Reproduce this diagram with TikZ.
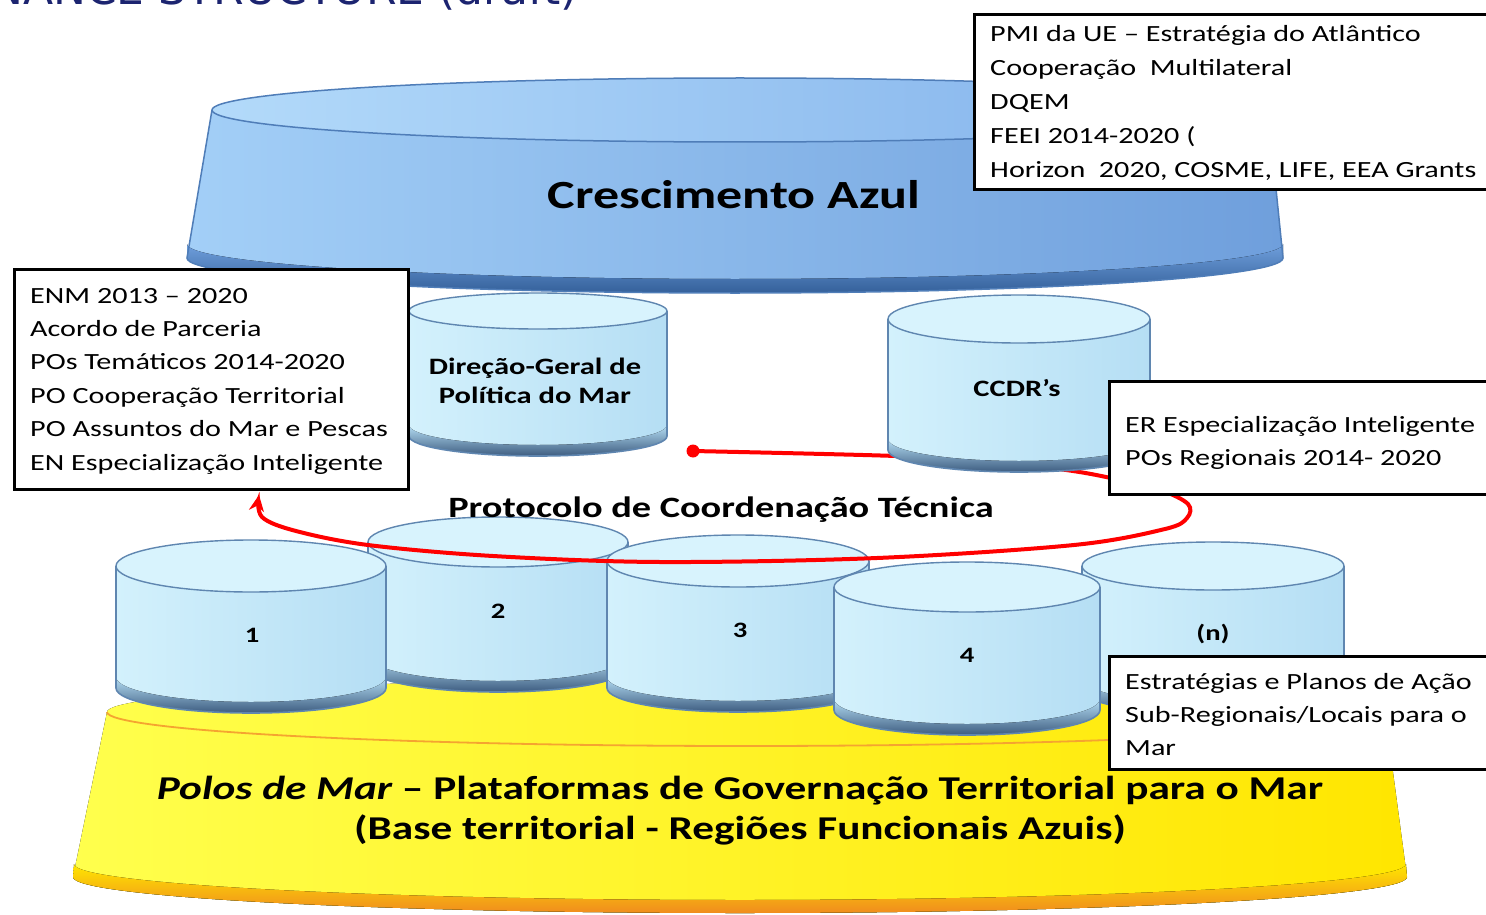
\documentclass[tikz,border=0pt]{standalone}
\usepackage{fontspec}
\usetikzlibrary{arrows.meta}
\newfontfamily\cfont[FakeStretch=1.3]{Carlito}
\newfontfamily\tfont{DejaVu Sans}
\definecolor{navy}{HTML}{1C2470}
\definecolor{drumL}{HTML}{D3F1FC}
\definecolor{drumR}{HTML}{B5DEF4}
\definecolor{drumT}{HTML}{D8F3FD}
\definecolor{drumE}{HTML}{5F86B0}
\definecolor{drumD}{HTML}{3D5C80}
\definecolor{bigL}{HTML}{A3CFF7}
\definecolor{bigR}{HTML}{6F9FDC}
\definecolor{bigTL}{HTML}{B3DAFA}
\definecolor{bigTR}{HTML}{80B0EA}
\definecolor{bigE}{HTML}{4F7DB8}
\definecolor{bigD}{HTML}{34609A}
\definecolor{yelL}{HTML}{FFFF4D}
\definecolor{yelR}{HTML}{FFE600}
\definecolor{orangeD}{HTML}{F08C1E}
\definecolor{rimO}{HTML}{F5A430}
\newcommand\mydrum[6]{%
  \fill[left color=drumL, right color=drumR] (#1-#3,#2) -- (#1-#3,#5) arc[start angle=180,end angle=0,x radius=#3,y radius=#6] -- (#1+#3,#2) -- cycle;
  \fill[top color=drumR, bottom color=drumD] (#1-#3,#5-11) -- (#1-#3,#5) arc[start angle=180,end angle=0,x radius=#3,y radius=#6] -- (#1+#3,#5-11) arc[start angle=0,end angle=180,x radius=#3,y radius=#6] -- cycle;
  \draw[drumE, line width=1.6] (#1-#3,#2) -- (#1-#3,#5) arc[start angle=180,end angle=0,x radius=#3,y radius=#6] -- (#1+#3,#2);
  \draw[drumE, line width=1.4, fill=drumT] (#1,#2) ellipse[x radius=#3, y radius=#4];
}
\tikzset{
  boxframe/.style={draw=black, line width=3pt, fill=white, inner sep=0pt, anchor=north west},
  boxtxt/.style={anchor=base west, inner sep=0pt, font=\cfont\fontsize{23.2}{30}\selectfont},
  lab/.style={anchor=base, inner sep=0pt, font=\cfont\bfseries\fontsize{23.5}{28}\selectfont},
  numlab/.style={anchor=base, inner sep=0pt, font=\cfont\bfseries\fontsize{22}{26}\selectfont},
  redloop/.style={red, line width=4pt, line cap=round},
}
\begin{document}
\begin{tikzpicture}[x=1pt,y=-1pt]
\useasboundingbox (0,0) rectangle (1486,915);
\fill[white] (0,0) rectangle (1486,915);

% clipped title
\node[anchor=base east, inner sep=0, text=navy, font=\tfont\fontsize{44}{44}\selectfont] (title) at (578,5) {GOVERNANCE STRUCTURE (draft)};

% yellow base
\fill[left color=yelL, right color=yelR] (107,712) -- (73,877) arc[start angle=180,end angle=0,x radius=667,y radius=36] -- (1385,712) arc[start angle=0,end angle=-180,x radius=639,y radius=34] -- cycle;
\fill[top color=yelR, bottom color=orangeD] (74,864) -- (73,877) arc[start angle=180,end angle=0,x radius=667,y radius=36] -- (1406,864) arc[start angle=0,end angle=180,x radius=666,y radius=36] -- cycle;
\draw[rimO, line width=1.8pt] (107,712) arc[start angle=180,end angle=0,x radius=639,y radius=34];

% bottom drums
\mydrum{498}{542}{130}{25}{667}{25}
\mydrum{251}{566}{135}{26}{688}{25}
\mydrum{738}{561}{131}{26}{688}{24}
\mydrum{1213}{566}{131}{24}{690}{24}
\mydrum{967}{587}{133}{25}{710}{25}
\node[numlab] (n2) at (498,618) {2};
\node[numlab] (n1) at (252,642) {1};
\node[numlab] (n3) at (740,637) {3};
\node[numlab] (n4) at (967,662) {4};
\node[numlab] (nn) at (1213,640) {(n)};

% big top cylinder
\fill[left color=bigL, right color=bigR] (212,110) -- (187,258) arc[start angle=180,end angle=0,x radius=548,y radius=35] -- (1268,110) arc[start angle=0,end angle=-180,x radius=528,y radius=32] -- cycle;
\fill[top color=bigR, bottom color=bigD] (187,244) -- (187,258) arc[start angle=180,end angle=0,x radius=548,y radius=35] -- (1283,244) arc[start angle=0,end angle=180,x radius=548,y radius=35] -- cycle;
\draw[bigE, line width=1.5pt] (212,110) -- (187,258) arc[start angle=180,end angle=0,x radius=548,y radius=35] -- (1268,110);
\draw[bigE, line width=1.5pt, left color=bigTL, right color=bigTR] (740,110) ellipse[x radius=528, y radius=32];
\node[anchor=base, inner sep=0, font=\cfont\bfseries\fontsize{40}{44}\selectfont] (cresc) at (734,208) {Crescimento Azul};

% red loop
\node[circle, fill=red, inner sep=0pt, minimum size=13pt] (dot) at (693,451) {};
\coordinate (tip) at (259,495);
\draw[redloop, -{Stealth[length=16pt,width=15pt]}] plot[smooth, tension=0.55] coordinates {(dot.center) (896,456) (1000,462) (1066,470) (1106,477) (1160,490) (1188,504) (1187,518) (1165,529) (1074,545) (877,558) (660,562) (493,556) (368,545) (296,531) (262,517) (tip)};

% middle drums
\mydrum{538}{311}{129}{18}{436}{20}
\mydrum{1019}{319}{131}{24}{450}{22}
\node[lab] (dg1) at (535,374) {Direção-Geral de};
\node[lab] (dg2) at (535,403) {Política do Mar};
\node[lab] (ccdr) at (1017,396) {CCDR’s};

\node[anchor=base, inner sep=0, font=\cfont\bfseries\fontsize{29.5}{32}\selectfont] (proto) at (721,517) {Protocolo de Coordenação Técnica};

% boxes
\node[boxframe, minimum width=530pt, minimum height=175pt] (boxTR) at (973,13) {};
\node[boxtxt] (tr1) at (990,42) {PMI da UE – Estratégia do Atlântico};
\node[boxtxt] (tr2) at (990,76) {Cooperação\ \ Multilateral};
\node[boxtxt] (tr3) at (990,110) {DQEM};
\node[boxtxt] (tr4) at (990,144) {FEEI 2014-2020 (};
\node[boxtxt] (tr5) at (990,178) {Horizon\ \ 2020, COSME, LIFE, EEA Grants};

\node[boxframe, minimum width=394pt, minimum height=220pt] (boxL) at (13,268) {};
\node[boxtxt] (l1) at (30,303) {ENM 2013 – 2020};
\node[boxtxt] (l2) at (30,336.4) {Acordo de Parceria};
\node[boxtxt] (l3) at (30,369.8) {POs Temáticos 2014-2020};
\node[boxtxt] (l4) at (30,403.2) {PO Cooperação Territorial};
\node[boxtxt] (l5) at (30,436.6) {PO Assuntos do Mar e Pescas};
\node[boxtxt] (l6) at (30,470) {EN Especialização Inteligente};

\node[boxframe, minimum width=400pt, minimum height=113pt] (boxER) at (1108,380) {};
\node[boxtxt] (er1) at (1125,432) {ER Especialização Inteligente};
\node[boxtxt] (er2) at (1125,465) {POs Regionais 2014- 2020};

\node[boxframe, minimum width=400pt, minimum height=113pt] (boxBR) at (1108,655) {};
\node[boxtxt] (br1) at (1125,689) {Estratégias e Planos de Ação};
\node[boxtxt] (br2) at (1125,722) {Sub-Regionais/Locais para o};
\node[boxtxt] (br3) at (1125,755) {Mar};

% base text
\node[anchor=base, inner sep=0, font=\cfont\bfseries\fontsize{33.3}{36}\selectfont] (polos1) at (740,799) {{\itshape Polos de Mar} – Plataformas de Governação Territorial para o Mar};
\node[anchor=base, inner sep=0, font=\cfont\bfseries\fontsize{33.3}{36}\selectfont] (polos2) at (740,839) {(Base territorial - Regiões Funcionais Azuis)};
\end{tikzpicture}
\end{document}
